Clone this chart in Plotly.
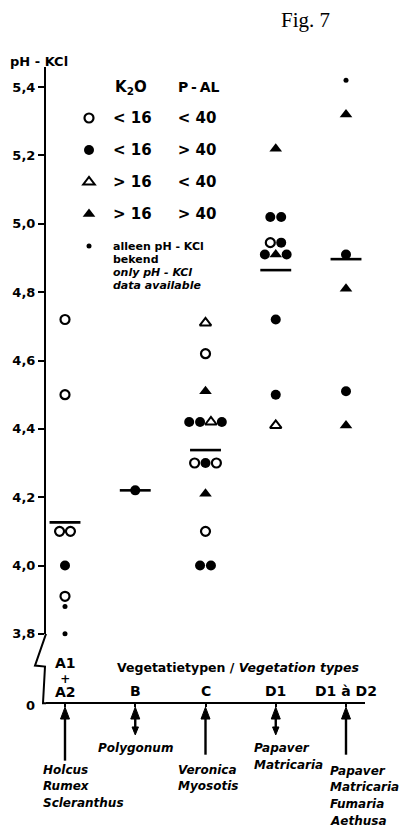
import numpy as np
import plotly.graph_objects as go

W, H = 399, 834

# ---------------- data ----------------
categories = ["A1 + A2", "B", "C", "D1", "D1 à D2"]
species = [["Holcus", "Rumex", "Scleranthus"],
           ["Polygonum"],
           ["Veronica", "Myosotis"],
           ["Papaver", "Matricaria"],
           ["Papaver", "Matricaria", "Fumaria", "Aethusa"]]

# pH-KCl values per vegetation type and symbol code
# o: K2O<16 P-AL<40, f: K2O<16 P-AL>40, t: K2O>16 P-AL<40, T: K2O>16 P-AL>40, d: only pH-KCl
ph_A = [4.72, 4.50, 4.10, 4.10, 4.00, 3.91, 3.88, 3.80]
sym_A = ["o", "o", "o", "o", "f", "o", "d", "d"]
ph_B = [4.22]
sym_B = ["f"]
ph_C = [4.71, 4.62, 4.51, 4.42, 4.42, 4.42, 4.42, 4.30, 4.30, 4.30, 4.21, 4.10, 4.00, 4.00]
sym_C = ["t", "o", "T", "f", "f", "t", "f", "o", "f", "o", "T", "o", "f", "f"]
ph_D1 = [5.22, 5.02, 5.02, 4.945, 4.945, 4.91, 4.91, 4.91, 4.72, 4.50, 4.41]
sym_D1 = ["T", "f", "f", "o", "f", "f", "T", "f", "f", "f", "t"]
ph_D12 = [5.42, 5.32, 4.91, 4.81, 4.51, 4.41]
sym_D12 = ["d", "T", "f", "T", "f", "T"]

tick_values = [3.8, 4.0, 4.2, 4.4, 4.6, 4.8, 5.0, 5.2, 5.4]
tick_text = ["3,8", "4,0", "4,2", "4,4", "4,6", "4,8", "5,0", "5,2", "5,4"]

legend_k2o = ["< 16", "< 16", "> 16", "> 16"]
legend_pal = ["< 40", "> 40", "< 40", "> 40"]
legend_only = ["alleen pH - KCl", "bekend", "only pH - KCl", "data available"]

# ---------------- layout helpers ----------------
def px(x):
    return x / W


def py(y):
    return 1 - y / H


FONT = "DejaVu Sans"
CAT_X0, CAT_DX = 65, 70.25          # pixel of first category, pixel spacing
Y_BOTTOM_PX, Y_TOP_PX, PX_PER_PH = 640, 68, 345
X_LEFT_PX, X_RIGHT_PX, X_AXIS_PX = 46, 365, 710

x_range = [(X_LEFT_PX - CAT_X0) / CAT_DX, (X_RIGHT_PX - CAT_X0) / CAT_DX]
y_range = [3.8, 3.8 + (Y_BOTTOM_PX - Y_TOP_PX) / PX_PER_PH]

styles = {
    "o": dict(symbol="circle-open", size=9, color="black", line=dict(width=2.2, color="black")),
    "f": dict(symbol="circle", size=10, color="black", line=dict(width=0)),
    "t": dict(symbol="triangle-up-open", size=10, color="black", line=dict(width=2, color="black")),
    "T": dict(symbol="triangle-up", size=11, color="black", line=dict(width=0)),
    "d": dict(symbol="circle", size=5, color="black", line=dict(width=0)),
}

groups = [(ph_A, sym_A), (ph_B, sym_B), (ph_C, sym_C), (ph_D1, sym_D1), (ph_D12, sym_D12)]
DODGE = 0.155
pts = {k: ([], []) for k in styles}
mean_x, mean_y = [], []
for ci, (phs, syms) in enumerate(groups):
    seen = []
    for v in phs:
        if v not in seen:
            seen.append(v)
    for v in seen:
        idx = [j for j, p in enumerate(phs) if p == v]
        n = len(idx)
        for k, j in enumerate(idx):
            pts[syms[j]][0].append(ci + (k - (n - 1) / 2) * DODGE)
            pts[syms[j]][1].append(v)
    m = float(np.mean(phs))
    mean_x += [ci - 0.22, ci + 0.22, None]
    mean_y += [m, m, None]

def esc(s):
    return s.replace("<", "&lt;").replace(">", "&gt;")

names = {}
for k, a, b in zip("oftT", legend_k2o, legend_pal):
    names[k] = "<span style='font-size:15px'>" + esc(a) + "&nbsp;" * 5 + esc(b) + "</span>"
only_lines = ["<span style='font-size:11px'>%s</span>" % legend_only[0],
              "<span style='font-size:11px'>%s</span>" % legend_only[1],
              "<span style='font-size:11px'><i>%s</i></span>" % legend_only[2],
              "<span style='font-size:11px'><i>%s</i></span>" % legend_only[3]]
names["d"] = "<br>".join(only_lines)

fig = go.Figure()
fig.add_trace(go.Scatter(x=mean_x, y=mean_y, mode="lines", line=dict(color="black", width=2.6),
                         showlegend=False, hoverinfo="skip", cliponaxis=False))
for k in ["o", "f", "t", "T", "d"]:
    fig.add_trace(go.Scatter(x=pts[k][0], y=pts[k][1], mode="markers", marker=styles[k],
                             name=names[k], legendgroup=k, cliponaxis=False))

# ---------------- annotations ----------------
ann = []

def text_ann(x, y, text, size, xanchor="left", xref="paper", family=FONT, xshift=0, bold=True):
    ann.append(dict(x=x, y=y, xref=xref, yref="paper", text=text, showarrow=False,
                    xanchor=xanchor, yanchor="middle", xshift=xshift,
                    font=dict(family=family, size=size, color="black",
                              weight="bold" if bold else "normal")))

text_ann(px(305), py(20), "Fig. 7", 21, xanchor="center", family="Liberation Serif", bold=False)
text_ann(px(8), py(62), "pH - KCl", 13)
text_ann(px(113), py(88), "K<sub>2</sub>O", 15)
text_ann(px(176), py(88), "P&#8201;-&#8201;AL", 14)
text_ann(px(30), py(712), "0", 13, xanchor="center")
text_ann(px(115), py(674), "Vegetatietypen / <i>Vegetation types</i>", 12.5)

# category labels
for ci, c in enumerate(categories):
    if " + " in c:
        top, bot = c.split(" + ")
        stacked = ("<span style='font-size:14px'>%s</span><br>"
                   "<span style='font-size:12px'>+</span><br>"
                   "<span style='font-size:14px'>%s</span>") % (top, bot)
        text_ann(ci, py(684), stacked, 11.2, xanchor="center", xref="x")
    else:
        text_ann(ci, py(698), c, 14, xanchor="center", xref="x")

# arrows (drawn as shapes) and species names
shapes = []
arrow_len = [54, 28, 48, 28, 48]
double_arrow = [False, True, False, True, False]
sp_shift = [-24, -39, -30, -24, -18]
sp_top = [777, 755, 777, 755, 778]
TIP = 714
HX = 4.5 / CAT_DX     # half width of arrow head, in category units
for ci in range(len(categories)):
    tail = TIP + arrow_len[ci]
    shapes.append(dict(type="line", xref="x", yref="paper", x0=ci, x1=ci,
                       y0=py(TIP + 8), y1=py(tail - (5 if double_arrow[ci] else 0)),
                       line=dict(color="black", width=2.4)))
    head = "M %.5f,%.5f L %.5f,%.5f L %.5f,%.5f Z" % (ci, py(TIP), ci - HX, py(TIP + 12),
                                                       ci + HX, py(TIP + 12))
    shapes.append(dict(type="path", xref="x", yref="paper", path=head,
                       fillcolor="black", line=dict(color="black", width=1)))
    if double_arrow[ci]:
        hx2 = 3.2 / CAT_DX
        tailhead = "M %.5f,%.5f L %.5f,%.5f L %.5f,%.5f Z" % (ci, py(tail), ci - hx2, py(tail - 8),
                                                               ci + hx2, py(tail - 8))
        shapes.append(dict(type="path", xref="x", yref="paper", path=tailhead,
                           fillcolor="black", line=dict(color="black", width=1)))
    for li, s in enumerate(species[ci]):
        text_ann(ci, py(sp_top[ci] + li * 17), "<i>%s</i>" % s, 12, xref="x", xshift=sp_shift[ci])

# broken axis zigzag
zig = [(46, 640), (35, 672), (45, 673), (43, X_AXIS_PX), (46, X_AXIS_PX)]
path = "M " + " L ".join("%.5f,%.5f" % (px(a), py(b)) for a, b in zig)
shapes.append(dict(type="path", path=path, xref="paper", yref="paper",
                   line=dict(color="black", width=2)))

fig.update_layout(
    width=W, height=H, margin=dict(l=0, r=0, t=0, b=0),
    paper_bgcolor="white", plot_bgcolor="white",
    showlegend=True,
    legend=dict(x=px(65), y=py(106), xanchor="left", yanchor="top", bgcolor="rgba(0,0,0,0)",
                font=dict(family=FONT, size=10, color="black", weight="bold"),
                traceorder="grouped", tracegroupgap=13, itemwidth=38, valign="top"),
    xaxis=dict(domain=[px(X_LEFT_PX), px(X_RIGHT_PX)], range=x_range, anchor="free",
               position=py(X_AXIS_PX), showline=True, linewidth=2, linecolor="black",
               ticks="outside", ticklen=3, tickwidth=2, tickcolor="black",
               tickvals=list(range(len(categories))), showticklabels=False,
               showgrid=False, zeroline=False, fixedrange=True),
    yaxis=dict(domain=[py(Y_BOTTOM_PX), py(Y_TOP_PX)], range=y_range, showline=True,
               linewidth=2, linecolor="black", ticks="outside", ticklen=6, tickwidth=2,
               tickcolor="black", tickvals=tick_values, ticktext=tick_text,
               tickfont=dict(family=FONT, size=13, color="black", weight="bold"),
               showgrid=False, zeroline=False, fixedrange=True),
    shapes=shapes,
    annotations=ann,
)

fig.write_html("out.html")
